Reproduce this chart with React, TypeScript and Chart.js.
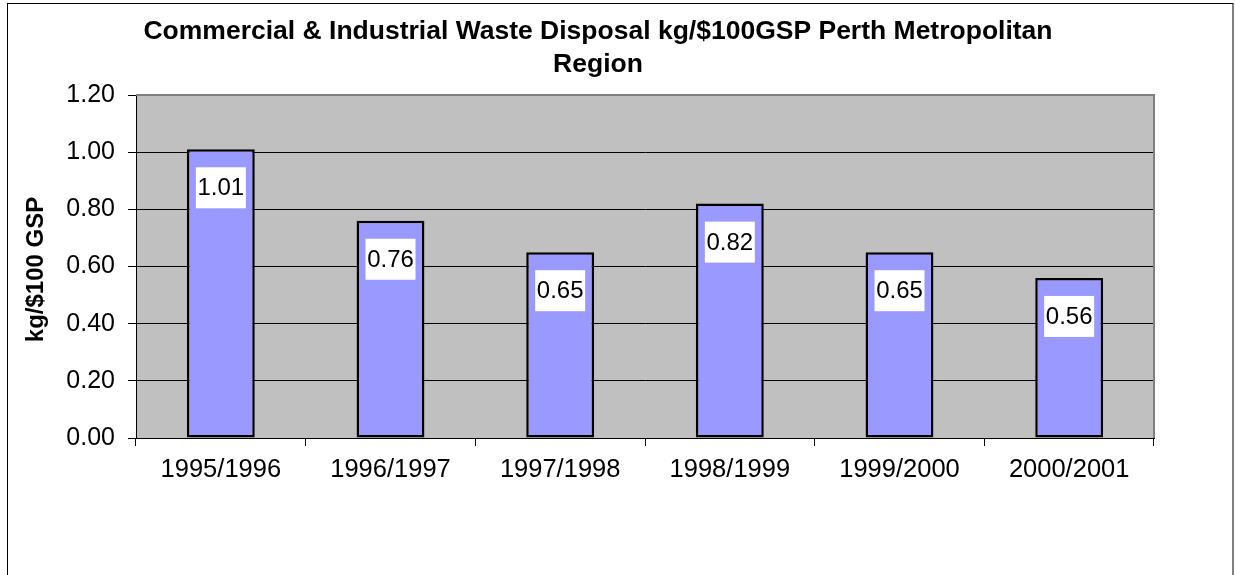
import React, { useEffect, useRef } from "react";
import { Chart, registerables } from "chart.js";

Chart.register(...registerables);

const categories = ["1995/1996", "1996/1997", "1997/1998", "1998/1999", "1999/2000", "2000/2001"];
const values = [1.01, 0.76, 0.65, 0.82, 0.65, 0.56];
const yMin = 0;
const yMax = 1.2;
const yStep = 0.2;
const titleLines = [
  "Commercial & Industrial Waste Disposal kg/$100GSP Perth Metropolitan",
  "Region",
];
const yAxisTitle = "kg/$100 GSP";

const FONT = '"Liberation Sans", Arial, sans-serif';

const decorPlugin = {
  id: "decor",
  beforeDraw(chart: any) {
    const { ctx, chartArea } = chart;
    ctx.save();
    ctx.fillStyle = "#C0C0C0";
    ctx.fillRect(chartArea.left, chartArea.top, chartArea.right - chartArea.left, chartArea.bottom - chartArea.top);
    ctx.restore();
  },
  afterDraw(chart: any) {
    const { ctx, chartArea } = chart;
    ctx.save();
    // plot area top/right border
    ctx.strokeStyle = "#808080";
    ctx.lineWidth = 2;
    ctx.beginPath();
    ctx.moveTo(chartArea.left, chartArea.top);
    ctx.lineTo(chartArea.right, chartArea.top);
    ctx.lineTo(chartArea.right, chartArea.bottom);
    ctx.stroke();

    // outer border
    ctx.strokeStyle = "#000";
    ctx.lineWidth = 1;
    ctx.strokeRect(7.5, 3.5, 1225.5, 620);

    // title
    ctx.fillStyle = "#000";
    ctx.font = `bold 26.5px ${FONT}`;
    ctx.textAlign = "center";
    ctx.textBaseline = "alphabetic";
    titleLines.forEach((line, i) => {
      ctx.fillText(line, 598, 39 + i * 33);
    });

    // y axis title
    ctx.save();
    ctx.translate(36, (chartArea.top + chartArea.bottom) / 2 + 3);
    ctx.rotate(-Math.PI / 2);
    ctx.font = `bold 24px ${FONT}`;
    ctx.textAlign = "center";
    ctx.textBaseline = "middle";
    ctx.fillText(yAxisTitle, 0, 0);
    ctx.restore();

    // data labels
    const meta = chart.getDatasetMeta(0);
    ctx.font = `24px ${FONT}`;
    ctx.textAlign = "center";
    ctx.textBaseline = "middle";
    meta.data.forEach((bar: any, i: number) => {
      const w = 50;
      const h = 41;
      const top = bar.y + 18;
      ctx.fillStyle = "#FFFFFF";
      ctx.fillRect(bar.x - w / 2, top, w, h);
      ctx.fillStyle = "#000";
      ctx.fillText(values[i].toFixed(2), bar.x, top + h / 2 + 1);
    });
    ctx.restore();
  },
};

export default function App() {
  const ref = useRef<HTMLCanvasElement | null>(null);
  useEffect(() => {
    if (!ref.current) return;
    const chart = new Chart(ref.current, {
      type: "bar",
      data: {
        labels: categories,
        datasets: [
          {
            data: values,
            backgroundColor: "#9999FF",
            borderColor: "#000000",
            borderWidth: 2.5,
            borderSkipped: false,
            categoryPercentage: 1,
            barPercentage: 0.4,
          },
        ],
      },
      options: {
        animation: false,
        responsive: false,
        devicePixelRatio: 1,
        layout: { padding: { top: 95, right: 81, left: 0, bottom: 0 } },
        plugins: {
          legend: { display: false },
          title: { display: false },
          tooltip: { enabled: false },
        },
        scales: {
          x: {
            afterFit(scale: any) {
              scale.height = 137;
            },
            grid: {
              drawOnChartArea: false,
              offset: true,
              tickLength: 8,
              tickColor: "#000",
              color: "#000",
            },
            border: { display: true, color: "#000", width: 1 },
            ticks: {
              color: "#000",
              font: { family: FONT, size: 25.5 },
              padding: 9,
              maxRotation: 0,
              autoSkip: false,
            },
          },
          y: {
            min: yMin,
            max: yMax,
            afterFit(scale: any) {
              scale.width = 136;
            },
            grid: {
              color: "#000",
              lineWidth: 1,
              tickLength: 8,
              tickColor: "#000",
            },
            border: { display: true, color: "#000", width: 1 },
            ticks: {
              stepSize: yStep,
              color: "#000",
              font: { family: FONT, size: 25 },
              padding: 13,
              callback: (v: any) => Number(v).toFixed(2),
            },
          },
        },
      },
      plugins: [decorPlugin],
    });
    return () => chart.destroy();
  }, []);
  return (
    <canvas
      ref={ref}
      width={1235}
      height={575}
      style={{ position: "absolute", left: 0, top: 0, display: "block" }}
    />
  );
}
